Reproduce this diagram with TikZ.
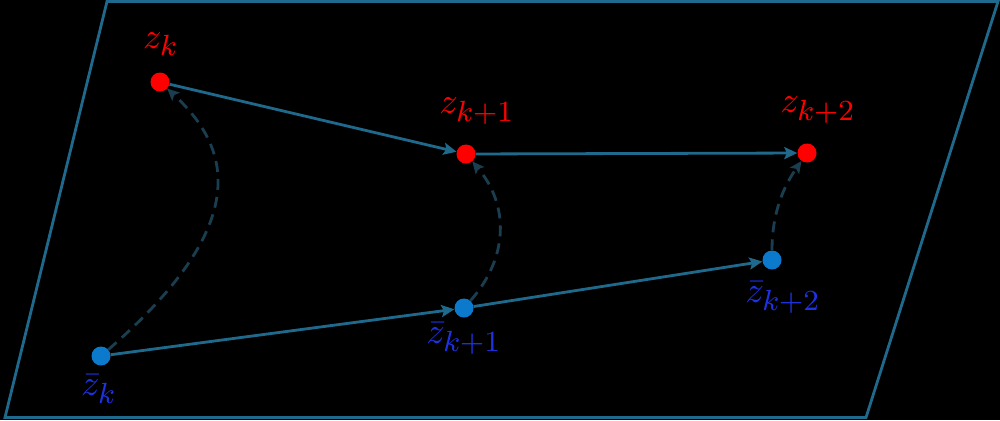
\documentclass[tikz,border=0pt]{standalone}
\usetikzlibrary{arrows.meta}
\DeclareMathSizes{10}{10}{8}{6}
\definecolor{edgec}{RGB}{31,106,140}
\definecolor{dashc}{RGB}{26,62,80}
\definecolor{redp}{RGB}{255,0,0}
\definecolor{bluep}{RGB}{12,122,204}
\definecolor{bluet}{RGB}{30,50,228}
\tikzset{
  redpt/.style={circle,fill=redp,inner sep=0pt,minimum size=19pt},
  bluept/.style={circle,fill=bluep,inner sep=0pt,minimum size=19pt},
  redlab/.style={text=redp,scale=3.65,inner sep=0pt},
  bluelab/.style={text=bluet,scale=3.65,inner sep=0pt},
  solidarr/.style={draw=edgec,line width=2.8pt,-{Stealth[length=13pt,width=12pt,inset=2.5pt]}},
  dasharr/.style={draw=dashc,line width=2.8pt,dash pattern=on 11pt off 7pt,-{Stealth[length=12pt,width=11pt,inset=2.5pt]}},
  plane/.style={draw=edgec,line width=2.8pt,line join=miter}
}
\begin{document}
\begin{tikzpicture}[x=1pt,y=-1pt]
\fill[black] (0,0) rectangle (1000,420);
\useasboundingbox (0,0) rectangle (1000,420);
\draw[plane] (107,1.5) -- (998,1.5) -- (866,417.5) -- (5,417.5) -- cycle;
% points
\node[redpt] (zk) at (160,82) {};
\node[redpt] (zk1) at (466,154) {};
\node[redpt] (zk2) at (807,153) {};
\node[bluept] (bk) at (101,356) {};
\node[bluept] (bk1) at (464,308) {};
\node[bluept] (bk2) at (772,260) {};
% labels
\node[redlab] (lzk) at (161,44) {$z_k$};
\node[redlab] (lzk1) at (477,111) {$z_{k+1}$};
\node[redlab] (lzk2) at (818,110) {$z_{k+2}$};
\node[bluelab] (lbk) at (99,389) {$\bar z_k$};
\node[bluelab] (lbk1) at (464,339) {$\bar z_{k+1}$};
\node[bluelab] (lbk2) at (783,298) {$\bar z_{k+2}$};
% solid arrows
\draw[solidarr] (zk) -- (zk1);
\draw[solidarr] (zk1) -- (zk2);
\draw[solidarr] (bk) -- (bk1);
\draw[solidarr] (bk1) -- (bk2);
% dashed arrows
\draw[dasharr] (bk) .. controls (248,228) and (236,152) .. (zk);
\draw[dasharr] (bk1) .. controls (509,257) and (509,205) .. (zk1);
\draw[dasharr] (bk2) .. controls (772,212) and (784,186) .. (zk2);
\end{tikzpicture}
\end{document}
